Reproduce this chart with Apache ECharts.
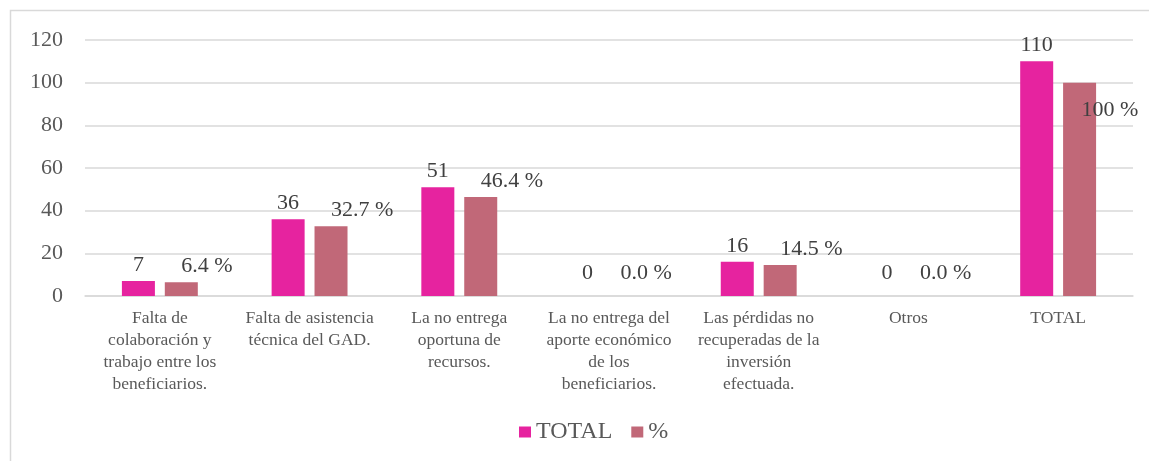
<!DOCTYPE html>
<html>
<head>
<meta charset="utf-8">
<script src="https://cdn.jsdelivr.net/npm/echarts@6/dist/echarts.min.js"></script>
<style>
  html, body { margin: 0; padding: 0; background: #fff; }
  #chart { width: 1149px; height: 461px; }
</style>
</head>
<body>
<div id="chart"></div>
<script>
const categories = [
  'Falta de\ncolaboración y\ntrabajo entre los\nbeneficiarios.',
  'Falta de asistencia\ntécnica del GAD.',
  'La no entrega\noportuna de\nrecursos.',
  'La no entrega del\naporte económico\nde los\nbeneficiarios.',
  'Las pérdidas no\nrecuperadas de la\ninversión\nefectuada.',
  'Otros',
  'TOTAL'
]
const totalValues = [7, 36, 51, 0, 16, 0, 110]
const percentValues = [6.4, 32.7, 46.4, 0, 14.5, 0, 100]
const yTicks = { min: 0, max: 120, interval: 20 }

const FONT = '"Liberation Serif", "Times New Roman", serif'
const PINK = '#E6239F'
const ROSE = '#C16878'

const chart = echarts.init(document.getElementById('chart'))

const fmtPct = (v) => (v === 100 ? '100 %' : v.toFixed(1) + ' %')

// zero labels sit a bit higher, the 100 % one is pushed inside the bar (as in the original)
const totalData = totalValues.map(v => ({
  value: v,
  label: v === 0 ? { offset: [0, -7] } : {}
}))

const percentData = percentValues.map(v => {
  let offset = [0, 0]
  if (v === 0) offset = [-10, -7]
  if (v === 100) offset = [2, 44]
  return { value: v, label: { offset } }
})

const option = {
  backgroundColor: '#fff',
  animation: false,
  textStyle: { fontFamily: FONT },
  graphic: [{
    type: 'rect',
    shape: { x: 10.5, y: 10.5, width: 1200, height: 600 },
    style: { fill: 'none', stroke: '#D9D9D9', lineWidth: 1.5 },
    silent: true
  }],
  grid: { left: 85, right: 16, top: 40, bottom: 165 },
  legend: {
    bottom: 12,
    left: 514,
    itemWidth: 12,
    itemHeight: 11,
    itemGap: 19,
    icon: 'rect',
    textStyle: { fontFamily: FONT, fontSize: 24, color: '#595959' },
    data: ['TOTAL', '%']
  },
  xAxis: {
    type: 'category',
    data: categories,
    axisLine: { lineStyle: { color: '#D9D9D9', width: 1.5 } },
    axisTick: { show: false },
    axisLabel: {
      interval: 0,
      margin: 11,
      fontFamily: FONT,
      fontSize: 17.5,
      lineHeight: 22,
      color: '#595959',
      align: 'center'
    }
  },
  yAxis: {
    type: 'value',
    min: yTicks.min,
    max: yTicks.max,
    interval: yTicks.interval,
    axisLine: { show: false },
    axisTick: { show: false },
    splitLine: { lineStyle: { color: '#D9D9D9', width: 1.5 } },
    axisLabel: { margin: 22, fontFamily: FONT, fontSize: 22, color: '#595959' }
  },
  series: [
    {
      name: 'TOTAL',
      type: 'bar',
      barWidth: 33,
      barGap: '30%',
      itemStyle: { color: PINK },
      label: {
        show: true,
        position: 'top',
        distance: 5,
        fontFamily: FONT,
        fontSize: 22,
        color: '#404040'
      },
      data: totalData
    },
    {
      name: '%',
      type: 'bar',
      barWidth: 33,
      itemStyle: { color: ROSE },
      label: {
        show: true,
        position: 'top',
        align: 'left',
        distance: 5,
        fontFamily: FONT,
        fontSize: 22,
        color: '#404040',
        formatter: (p) => fmtPct(p.value)
      },
      data: percentData
    }
  ]
}

chart.setOption(option)
</script>
</body>
</html>
